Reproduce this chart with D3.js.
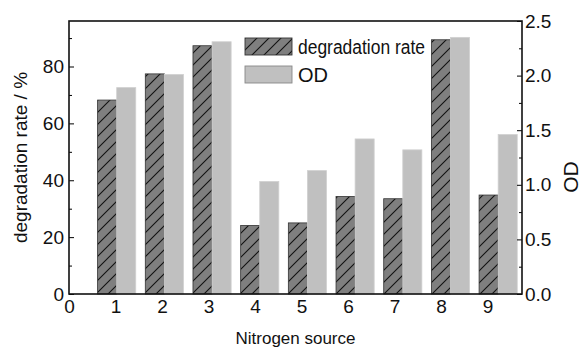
<!DOCTYPE html>
<html>
<head>
<meta charset="utf-8">
<script src="https://cdn.jsdelivr.net/npm/d3@7"></script>
<style>
  body { margin: 0; background: #fff; }
  text { font-family: "Liberation Sans", Arial, sans-serif; fill: #111; }
</style>
</head>
<body>
<div id="chart"></div>
<script>
/* data */
var categories = [1, 2, 3, 4, 5, 6, 7, 8, 9];
var degradation = [68.2, 77.4, 87.3, 24.1, 25.0, 34.3, 33.5, 89.4, 34.8];
var od = [1.89, 2.01, 2.31, 1.03, 1.13, 1.42, 1.32, 2.35, 1.46];
var xTicks = [0, 1, 2, 3, 4, 5, 6, 7, 8, 9];
var leftTicks = [0, 20, 40, 60, 80];
var rightTicks = [0, 0.5, 1.0, 1.5, 2.0, 2.5];

/* margin convention */
var margin = { top: 21, right: 62, bottom: 53, left: 69 };
var W = 584, H = 347;
var width = W - margin.left - margin.right;
var height = H - margin.top - margin.bottom;

var svg = d3.select("#chart").append("svg")
  .attr("width", W)
  .attr("height", H);

// hatch pattern for degradation bars
var defs = svg.append("defs");
var pat = defs.append("pattern")
  .attr("id", "hatch")
  .attr("patternUnits", "userSpaceOnUse")
  .attr("width", 12)
  .attr("height", 12);
pat.append("rect").attr("width", 12).attr("height", 12).attr("fill", "#7f7f7f");
pat.append("path")
  .attr("d", "M-3,15 L15,-3 M-3,3 L3,-3 M9,15 L15,9")
  .attr("stroke", "#111")
  .attr("stroke-width", 1.1);

var g = svg.append("g")
  .attr("transform", "translate(" + margin.left + "," + margin.top + ")");

/* scales */
// bars sit on a slightly wider spacing than the printed tick labels
var x = d3.scaleLinear().domain([0, 9.5]).range([0, width]);
var xLab = d3.scaleLinear().domain([0, 9.74]).range([0, width]);
var yL = d3.scaleLinear().domain([0, 96]).range([height, 0]);
var yR = d3.scaleLinear().domain([0, 2.5]).range([height, 0]);

var bw = x(0.4) - x(0);

/* bars */
g.selectAll("rect.deg").data(categories)
  .enter().append("rect")
    .attr("class", "deg")
    .attr("x", (d) => x(d) - bw)
    .attr("y", (d, i) => yL(degradation[i]))
    .attr("width", bw)
    .attr("height", (d, i) => height - yL(degradation[i]))
    .attr("fill", "url(#hatch)")
    .attr("stroke", "#333")
    .attr("stroke-width", 0.8);

g.selectAll("rect.od").data(categories)
  .enter().append("rect")
    .attr("class", "od")
    .attr("x", (d) => x(d))
    .attr("y", (d, i) => yR(od[i]))
    .attr("width", bw)
    .attr("height", (d, i) => height - yR(od[i]))
    .attr("fill", "#c0c0c0")
    .attr("stroke", "#d0d0d0")
    .attr("stroke-width", 0.8);

/* axes */
var fs = "19px";

// left minor ticks
g.append("g")
  .call(d3.axisRight(yL).tickValues([10, 30, 50, 70, 90]).tickSize(3).tickFormat(""))
  .call((s) => s.select(".domain").remove());

var left = g.append("g")
  .call(d3.axisRight(yL).tickValues(leftTicks).tickSize(5).tickFormat(d3.format("d")));
left.select(".domain").remove();
left.selectAll("text")
  .attr("x", -5).attr("text-anchor", "end")
  .style("font-size", fs);

// right axis
var right = g.append("g").attr("transform", "translate(" + width + ",0)");
right.call(d3.axisLeft(yR).tickValues([0.25, 0.75, 1.25, 1.75, 2.25]).tickSize(3).tickFormat(""))
  .call((s) => s.select(".domain").remove());
var right2 = g.append("g").attr("transform", "translate(" + width + ",0)")
  .call(d3.axisLeft(yR).tickValues(rightTicks).tickSize(5).tickFormat(d3.format(".1f")));
right2.select(".domain").remove();
right2.selectAll("text")
  .attr("x", 3).attr("text-anchor", "start")
  .style("font-size", fs);

// bottom axis (labels only)
var bottom = g.append("g").attr("transform", "translate(0," + height + ")")
  .call(d3.axisBottom(xLab).tickValues(xTicks).tickSize(0).tickFormat(d3.format("d")));
bottom.select(".domain").remove();
bottom.selectAll("text")
  .attr("y", 6)
  .style("font-size", fs);

/* frame */
g.append("rect")
  .attr("width", width).attr("height", height)
  .attr("fill", "none").attr("stroke", "#111").attr("stroke-width", 1.6);

/* axis titles */
svg.append("text")
  .attr("transform", "translate(27," + (margin.top + height / 2) + ") rotate(-90)")
  .attr("text-anchor", "middle")
  .style("font-size", "19px")
  .text("degradation rate / %");

svg.append("text")
  .attr("transform", "translate(578,177) rotate(-90)")
  .attr("text-anchor", "middle")
  .style("font-size", "21px")
  .text("OD");

svg.append("text")
  .attr("x", margin.left + width / 2)
  .attr("y", 344)
  .attr("text-anchor", "middle")
  .style("font-size", "17px")
  .text("Nitrogen source");

/* legend */
var legend = g.append("g").attr("transform", "translate(" + (245 - margin.left) + "," + (38 - margin.top) + ")");
var series = ["degradation rate", "OD"];
var fills = ["url(#hatch)", "#c0c0c0"];
series.forEach((s, i) => {
  legend.append("rect")
    .attr("x", 0).attr("y", i * 28)
    .attr("width", 47).attr("height", 17)
    .attr("fill", fills[i])
    .attr("stroke", i === 0 ? "#333" : "#888")
    .attr("stroke-width", 0.9);
  var t = legend.append("text")
    .attr("x", 53).attr("y", i * 28 + 16)
    .style("font-size", "20px")
    .text(s);
  if (i === 0) t.attr("textLength", 127).attr("lengthAdjust", "spacingAndGlyphs");
});
</script>
</body>
</html>
